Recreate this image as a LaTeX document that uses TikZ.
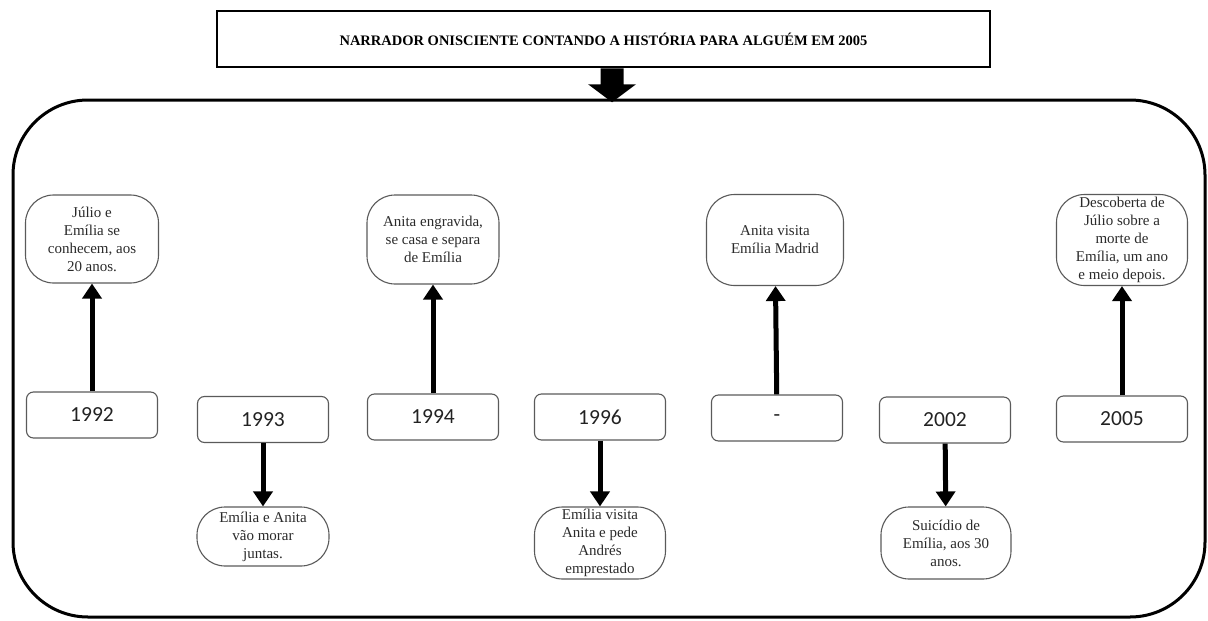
\documentclass[tikz,border=0pt]{standalone}
\usepackage{fontspec}
\setmainfont{Liberation Serif}
\newfontfamily\yearfont{Carlito}
\usetikzlibrary{arrows.meta}
\definecolor{boxline}{HTML}{5A5A5A}
\definecolor{evtext}{HTML}{2A2A2A}
\definecolor{yrtext}{HTML}{222222}
\begin{document}
\begin{tikzpicture}[x=1pt,y=-1pt,
  yearbox/.style={draw=boxline, line width=1.1pt, rounded corners=7pt,
    minimum width=131pt, minimum height=46pt, inner sep=0pt,
    font=\yearfont\fontsize{21.5}{24}\selectfont, text=yrtext},
  event/.style={draw=boxline, line width=1.1pt, rounded corners=28pt,
    inner sep=0pt, align=center,
    font=\fontsize{15}{18}\selectfont, text=evtext},
  link/.style={line width=5pt, -{Triangle[width=19pt,length=15pt]}},
]
\useasboundingbox (0,0) rectangle (1208,621);

% heading box and the block arrow below it
\node[draw, line width=2.5pt, minimum width=773pt, minimum height=56pt,
      inner sep=0pt, font=\bfseries\fontsize{14.5}{16}\selectfont]
  (title) at (603.5,39) {NARRADOR ONISCIENTE CONTANDO A HISTÓRIA PARA ALGUÉM EM 2005};

% outer rounded frame holding the timeline
\node[draw, line width=3pt, rounded corners=75pt, minimum width=1192pt,
      minimum height=517pt, inner sep=0pt] (frame) at (609,358.5) {};

\coordinate (ah) at ([xshift=8.5pt]title.south);
\fill[black] (ah) ++(-11.5,0) -- ++(23,0) -- ++(0,16) -- ++(12.5,0)
  -- ++(-24,18) -- ++(-24,-18) -- ++(12.5,0) -- cycle;

% year boxes
\node[yearbox] (y92) at (92,415) {1992};
\node[yearbox] (y93) at (263,419.5) {1993};
\node[yearbox] (y94) at (433,417) {1994};
\node[yearbox] (y96) at (600,417) {1996};
\node[yearbox] (ydash) at (777,418) {-};
\node[yearbox] (y02) at (945,420) {2002};
\node[yearbox] (y05) at (1122,419) {2005};

% events above the line
\node[event, minimum width=133pt, minimum height=88pt] (e92) at (92,239)
  {Júlio e\\Emília se\\conhecem, aos\\20 anos.};
\node[event, minimum width=132pt, minimum height=89pt] (e94) at (433,239.5)
  {Anita engravida,\\se casa e separa\\de Emília};
\node[event, minimum width=137pt, minimum height=91pt] (edash) at (775,240)
  {Anita visita\\Emília Madrid};
\node[event, minimum width=131pt, minimum height=91pt] (e05) at (1122,240)
  {Descoberta de\\Júlio sobre a\\morte de\\Emília, um ano\\e meio depois.};

% events below the line
\node[event, minimum width=132pt, minimum height=59pt] (e93) at (263,536.5)
  {Emília e Anita\\vão morar\\juntas.};
\node[event, minimum width=131pt, minimum height=72pt] (e96) at (600,543)
  {Emília visita\\Anita e pede\\Andrés\\emprestado};
\node[event, minimum width=130pt, minimum height=72pt] (e02) at (946,543)
  {Suicídio de\\Emília, aos 30\\anos.};

% connectors
\draw[link] (y92) -- (e92);
\draw[link] (y94) -- (e94);
\draw[link] (ydash) -- (edash);
\draw[link] (y05) -- (e05);
\draw[link] (y93) -- (e93);
\draw[link] (y96) -- (e96);
\draw[link] (y02) -- (e02);
\end{tikzpicture}
\end{document}
